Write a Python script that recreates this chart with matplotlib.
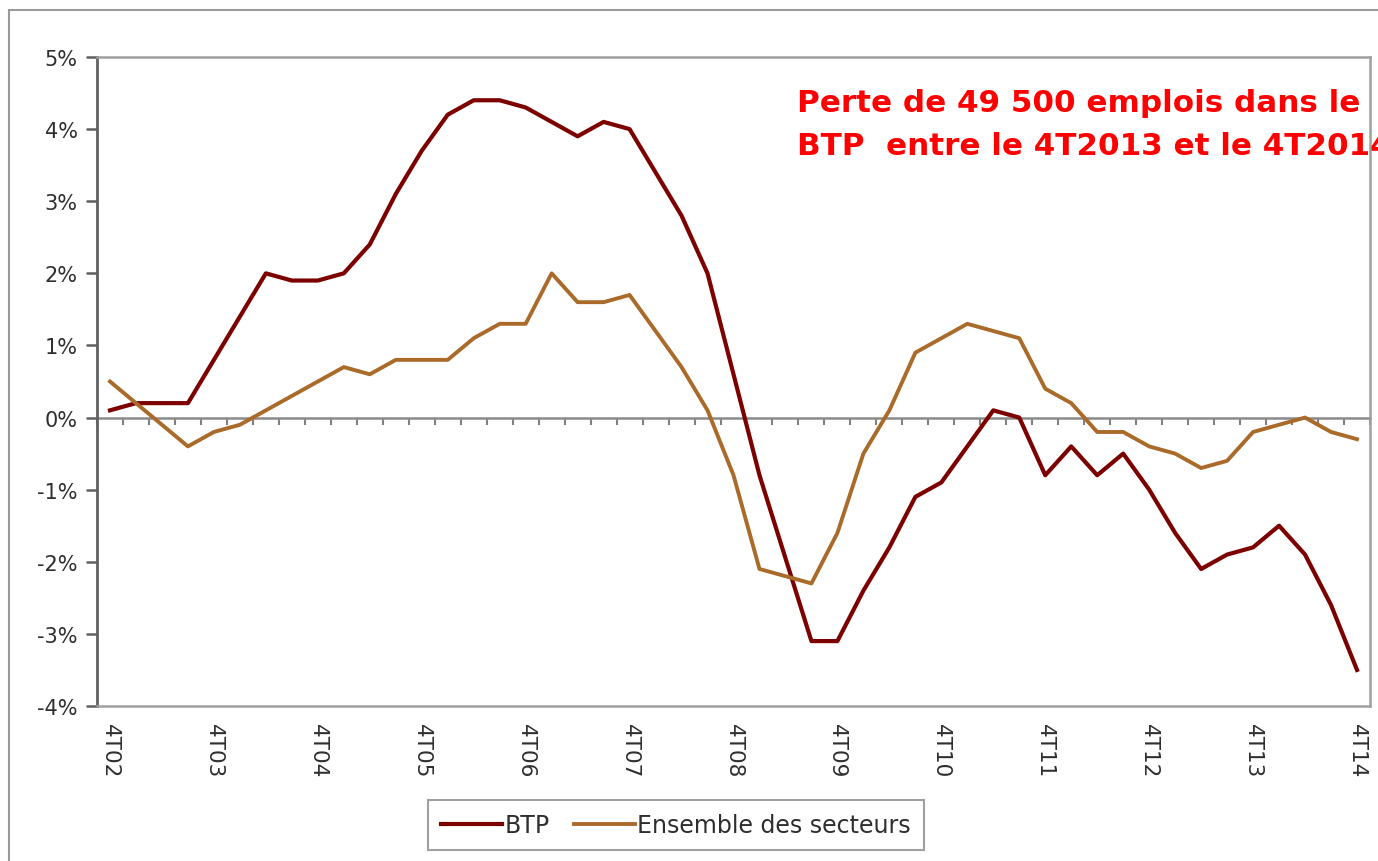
import matplotlib
matplotlib.use("Agg")
import matplotlib.pyplot as plt
from matplotlib.patches import Rectangle
import numpy as np

# ---- data ----
quarters = ["4T02", "4T03", "4T04", "4T05", "4T06", "4T07", "4T08",
            "4T09", "4T10", "4T11", "4T12", "4T13", "4T14"]
btp = [0.1, 0.2, 0.2, 0.2, 0.8, 1.4, 2.0, 1.9, 1.9, 2.0, 2.4, 3.1, 3.7,
       4.2, 4.4, 4.4, 4.3, 4.1, 3.9, 4.1, 4.0, 3.4, 2.8, 2.0, 0.6, -0.8,
       -1.95, -3.1, -3.1, -2.4, -1.8, -1.1, -0.9, -0.4, 0.1, 0.0, -0.8,
       -0.4, -0.8, -0.5, -1.0, -1.6, -2.1, -1.9, -1.8, -1.5, -1.9, -2.6, -3.5]
ensemble = [0.5, 0.2, -0.1, -0.4, -0.2, -0.1, 0.1, 0.3, 0.5, 0.7, 0.6, 0.8,
            0.8, 0.8, 1.1, 1.3, 1.3, 2.0, 1.6, 1.6, 1.7, 1.2, 0.7, 0.1, -0.8,
            -2.1, -2.2, -2.3, -1.6, -0.5, 0.1, 0.9, 1.1, 1.3, 1.2, 1.1, 0.4,
            0.2, -0.2, -0.2, -0.4, -0.5, -0.7, -0.6, -0.2, -0.1, 0.0, -0.2, -0.3]
y_ticks = [5, 4, 3, 2, 1, 0, -1, -2, -3, -4]
series_names = ["BTP", "Ensemble des secteurs"]
annotation = "Perte de 49 500 emplois dans le\nBTP  entre le 4T2013 et le 4T2014"

c_btp = "#7d0000"
c_ens = "#a96a2a"
txt = "#2e2e2e"

W, H = 1378, 862
fig = plt.figure(figsize=(W / 100, H / 100), dpi=100)
fig.patch.set_facecolor("white")

# outer chart frame
fig.add_artist(Rectangle((9 / W, -0.05), 1.1, 1.05 - 11 / H,
                         transform=fig.transFigure, fill=False,
                         edgecolor="#9a9a9a", linewidth=1.5))

ax = fig.add_axes([97 / W, 1 - 707 / H, (1370 - 97) / W, (707 - 58) / H])
x = np.arange(len(btp))
ymin, ymax = min(y_ticks), max(y_ticks)

ax.plot(x, btp, color=c_btp, lw=3.0, label=series_names[0], solid_joinstyle="round")
ax.plot(x, ensemble, color=c_ens, lw=2.8, label=series_names[1], solid_joinstyle="round")

ax.set_xlim(-0.5, len(btp) - 0.5)
ax.set_ylim(ymin, ymax)

for s in ["top", "right", "bottom"]:
    ax.spines[s].set_color("#a0a0a0")
    ax.spines[s].set_linewidth(1.8)
ax.spines["left"].set_color("#606060")
ax.spines["left"].set_linewidth(2.0)

ax.set_yticks(y_ticks)
ax.set_yticklabels([f"{v}%" for v in y_ticks], fontsize=15, color=txt)
ax.tick_params(axis="y", length=8, width=1.8, color="#606060", pad=6)

label_pos = np.arange(0, len(btp), 4)
ax.set_xticks(label_pos)
ax.set_xticklabels(quarters, rotation=-90, fontsize=15.5, color=txt)
ax.tick_params(axis="x", length=0, pad=12)

# zero axis with small ticks at category boundaries
zero_frac = (0 - ymin) / (ymax - ymin)
sec = ax.secondary_xaxis(zero_frac)
sec.set_xticks(np.arange(-0.5, len(btp), 1.0))
sec.set_xticklabels([])
sec.tick_params(axis="x", direction="out", length=5, width=1.5, color="#808080")
sec.spines["bottom"].set_color("#8a8a8a")
sec.spines["bottom"].set_linewidth(1.8)

# annotation (right end cut by the figure edge, as in the original)
fig.text(797 / W, 1 - 89 / H, annotation, color="#ff0000", fontsize=22.3,
         fontweight="bold", va="top", ha="left", linespacing=1.62)

# legend
leg = fig.legend(loc="center", bbox_to_anchor=(676 / W, 1 - 826 / H), ncol=2,
                 frameon=True, fontsize=17, handlelength=2.6, handletextpad=0.1,
                 columnspacing=1.0, borderpad=0.55, fancybox=False)
leg.get_frame().set_edgecolor("#888888")
leg.get_frame().set_linewidth(1.5)
for t in leg.get_texts():
    t.set_color(txt)

fig.savefig("out.png", dpi=100)
